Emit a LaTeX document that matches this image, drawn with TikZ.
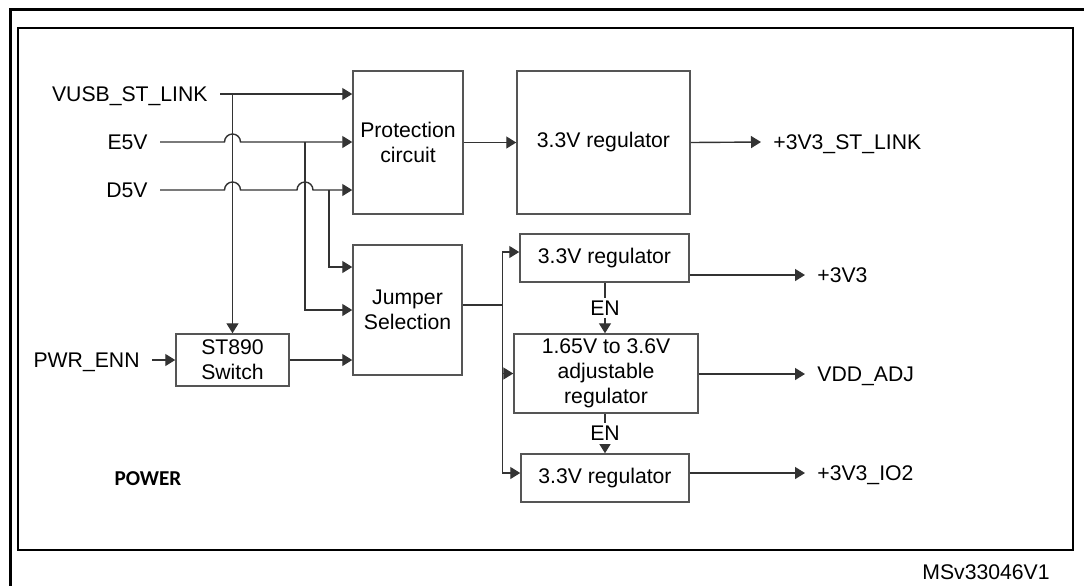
\documentclass[tikz,border=0pt]{standalone}
\usepackage{fontspec}
\setmainfont{Liberation Sans}
\newfontfamily\calibrifont{Carlito}
\usetikzlibrary{arrows.meta,calc}
\definecolor{pwrline}{HTML}{333333}
\definecolor{pwrbox}{HTML}{555555}

\begin{document}
\begin{tikzpicture}[
  x=0.5pt,y=-0.5pt,
  font=\fontsize{10.6}{12.5}\selectfont,
  box/.style={draw=pwrbox,line width=0.75pt,align=center,inner sep=0pt},
  lbl/.style={inner xsep=6pt,inner ysep=0pt,text height=7.6pt,text depth=0pt},
  wire/.style={draw=pwrline,line width=0.7pt},
  arr/.style={wire,-{Triangle[length=5pt,width=6pt]}},
  enlbl/.style={fill=white,inner xsep=1pt,inner ysep=1.5pt}
]
\useasboundingbox (0,0) rectangle (1084,586);
% frames
\draw[line width=1.5pt] (1084,9) -- (10,9) -- (10,586);
\draw[line width=1.2pt] (18,28) rectangle (1073,550);

% blocks
\node[box,minimum width=55pt,minimum height=71.5pt] (prot) at (408,142.5) {Protection\\circuit};
\node[box,minimum width=86.5pt,minimum height=71.5pt] (stlreg) at (603.5,142.5) {3.3V regulator};
\node[box,minimum width=54.5pt,minimum height=65pt] (jumper) at (407.5,310) {Jumper\\Selection};
\node[box,minimum width=56.5pt,minimum height=26pt] (st890) at (232.5,360) {ST890\\Switch};
\node[box,minimum width=84.5pt,minimum height=24pt] (regio) at (604.5,258) {3.3V regulator};
\node[box,minimum width=92pt,minimum height=39.5pt] (adjreg) at (606,373.5) {1.65V to 3.6V\\adjustable\\regulator};
\node[box,minimum width=84pt,minimum height=24pt] (regiotwo) at (605,478) {3.3V regulator};

% inputs and outputs
\node[lbl,anchor=east] (vusb) at (220,94) {VUSB\_ST\_LINK};
\node[lbl,anchor=east] (e5v) at (160,142) {E5V};
\node[lbl,anchor=east] (d5v) at (160,190) {D5V};
\node[lbl,anchor=east] (pwrenn) at (152,360) {PWR\_ENN};
\node[lbl,anchor=west] (outstl) at (761,142) {+3V3\_ST\_LINK};
\node[lbl,anchor=west] (outio) at (805,275) {+3V3};
\node[lbl,anchor=west] (outadj) at (805,374) {VDD\_ADJ};
\node[lbl,anchor=west] (outiotwo) at (805,473) {+3V3\_IO2};
\node[font={\fontsize{10.6}{12}\calibrifont\bfseries}] (pwrlbl) at (148,479) {POWER};
\node (msv) at (986,572) {MSv33046V1};

% taps
\coordinate (vusbtap) at (st890.north |- vusb.east);
\coordinate (e5vtap) at (305,142);
\coordinate (d5vtap) at (329,190);
\coordinate (bus) at ($(jumper.east)+(40,-5)$);
\coordinate (enline) at (605,0);

% left side
\draw[arr] (vusb.east) -- (vusb.east -| prot.west);
\draw[arr] (vusbtap) -- (st890.north);
\draw[arr] (e5v.east) -- ($(vusbtap |- e5v.east)+(-8,0)$) arc[start angle=180,end angle=0,radius=4pt] -- (e5v.east -| prot.west);
\draw[arr] (d5v.east) -- ($(vusbtap |- d5v.east)+(-8,0)$) arc[start angle=180,end angle=0,radius=4pt]
  -- ($(e5vtap |- d5v.east)+(-8,0)$) arc[start angle=180,end angle=0,radius=4pt] -- (d5v.east -| prot.west);
\draw[arr] (e5vtap) |- (jumper.west);
\draw[arr] (d5vtap) |- ($(jumper.west)+(0,-43)$);
\draw[arr] (pwrenn.east) -- (st890.west);
\draw[arr] (st890.east) -- (st890.east -| jumper.west);

% right side
\draw[arr] (prot.east) -- (stlreg.west);
\draw[arr] (stlreg.east) -- (outstl.west);
\draw[wire] ($(jumper.east)+(0,-5)$) -- (bus);
\draw[arr] (bus) |- ($(regio.west)+(0,-6)$);
\draw[arr] (bus |- adjreg.west) -- (adjreg.west);
\draw[arr] (bus) |- ($(regiotwo.west)+(0,-5)$);
\draw[arr] (regio.east |- outio.west) -- (outio.west);
\draw[arr] (adjreg.east |- outadj.west) -- (outadj.west);
\draw[arr] (regiotwo.east |- outiotwo.west) -- (outiotwo.west);
\draw[arr] (enline |- regio.south) -- node[enlbl]{EN} (enline |- adjreg.north);
\draw[arr] (enline |- adjreg.south) -- node[enlbl]{EN} (enline |- regiotwo.north);
\end{tikzpicture}
\end{document}
